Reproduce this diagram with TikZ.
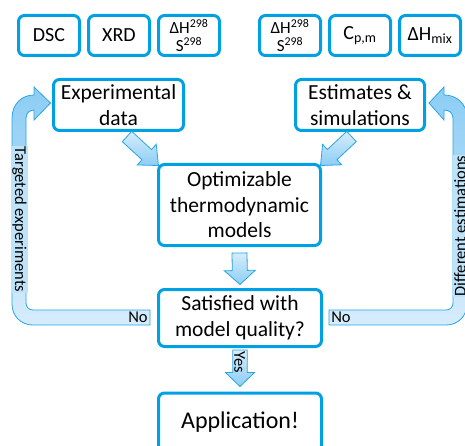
\documentclass[tikz,border=0pt]{standalone}
\usepackage{fontspec}
\setmainfont{Carlito}
\usetikzlibrary{calc}
\definecolor{bblue}{RGB}{0,160,227}
\definecolor{aline}{RGB}{40,165,230}
\definecolor{atop}{RGB}{214,237,251}
\definecolor{abot}{RGB}{140,205,244}
\definecolor{lband}{RGB}{214,236,251}
\definecolor{labfill}{RGB}{190,227,248}
\newcommand\blockarrow[5]{%
  \coordinate (bac) at ($(#2)!#5!(#1)$);
  \draw[blockarr] ($(#1)!#3!90:(#2)$) -- ($(bac)!#3!90:(#2)$) -- ($(bac)!#4!90:(#2)$) -- (#2)
    -- ($(bac)!#4!-90:(#2)$) -- ($(bac)!#3!-90:(#2)$) -- ($(#1)!#3!-90:(#2)$) -- cycle;}
\tikzset{
  box/.style={draw=bblue, line width=3pt, rounded corners=6pt, fill=white, align=center, inner sep=0pt},
  topbox/.style={box, minimum width=61pt, minimum height=40pt, font=\fontsize{20}{24}\selectfont},
  mainbox/.style={box, font=\fontsize{21.5}{25.5}\selectfont},
  blockarr/.style={draw=aline, line width=0.8pt, top color=atop, bottom color=abot},
  loopband/.style={draw=aline, line width=0.8pt, top color=abot, bottom color=lband},
  lab/.style={inner sep=1pt, font=\fontsize{16.5}{20}\selectfont},
}
\begin{document}
\begin{tikzpicture}[x=1pt, y=-1pt]
\useasboundingbox (0,0) rectangle (465,446);
% top data boxes
\node[topbox] (dsc) at (49,35.5) {DSC};
\node[topbox] (xrd) at (119,35.5) {XRD};
\node[topbox, font=\fontsize{17}{18}\selectfont] (hs1) at (189,35.5) {ΔH\textsuperscript{298}\\S\textsuperscript{298}};
\node[topbox, font=\fontsize{17}{18}\selectfont] (hs2) at (290,35.5) {ΔH\textsuperscript{298}\\S\textsuperscript{298}};
\node[topbox] (cp) at (360,35.5) {C\textsubscript{p,m}};
\node[topbox] (hmix) at (430,35.5) {ΔH\textsubscript{mix}};
% main boxes
\node[mainbox, minimum width=130pt, minimum height=51pt] (exp) at (118.5,105) {Experimental\\data};
\node[mainbox, minimum width=129pt, minimum height=51pt] (est) at (360,105) {Estimates \&\\simulations};
\node[mainbox, minimum width=162pt, minimum height=81pt] (opt) at (239.5,205) {Optimizable\\thermodynamic\\models};
\node[mainbox, minimum width=163pt, minimum height=57pt] (sat) at (240,318) {Satisfied with\\model quality?};
\node[mainbox, minimum width=163pt, minimum height=58pt, font=\fontsize{24}{28}\selectfont] (app) at (240,422) {Application!};
% connector end points
\coordinate (t1) at ($(exp.south)+(8.5,4.5)$);
\coordinate (h1) at ($(opt.north west)+(1.5,2.5)$);
\coordinate (t2) at ($(est.south)+(-8.5,4.5)$);
\coordinate (h2) at ($(opt.north east)+(-1.5,2.5)$);
\coordinate (t3) at ($(opt.south)+(0,6)$);
\coordinate (h3) at ($(sat.north)+(0,-3.5)$);
\coordinate (t4) at ($(sat.south)+(0,2)$);
\coordinate (h4) at ($(app.north)+(0,-5)$);
\coordinate (ltip) at ($(exp.west)+(-1.5,-2)$);
\coordinate (rtip) at ($(est.east)+(3,-2)$);
% block arrows
\blockarrow{t1}{h1}{7pt}{14pt}{16pt}
\blockarrow{t2}{h2}{7pt}{14pt}{16pt}
\blockarrow{t3}{h3}{7.5pt}{15.5pt}{14pt}
\blockarrow{t4}{h4}{7.2pt}{14.5pt}{14pt}
% feedback loops
\draw[loopband] (150,310) -- (33,310) .. controls (29,310) and (26,307) .. (26,303)
  -- (26,118) .. controls (26,113) and (30,110) .. (34,110) -- (34,120) -- (ltip)
  -- (34,87) -- (34,95) .. controls (22,95) and (12,104) .. (12,118)
  -- (12,304) .. controls (12,316) and (21,325) .. (33,325) -- (150,325) -- cycle;
\draw[loopband] (329,310) -- (446,310) .. controls (450,310) and (453,307) .. (453,303)
  -- (453,118) .. controls (453,113) and (449,110) .. (444,110) -- (444,120) -- (rtip)
  -- (444,87) -- (444,95) .. controls (457,95) and (467,104) .. (467,118)
  -- (467,304) .. controls (467,316) and (458,325) .. (446,325) -- (329,325) -- cycle;
% labels
\node[lab, fill=labfill, rotate=-90] (ltxt) at (19.5,219.5) {Targeted experiments};
\node[lab, fill=labfill, rotate=90] (rtxt) at (460,226) {Different estimations};
\node[lab] (lno) at (138,317.5) {No};
\node[lab] (rno) at (341,317.5) {No};
\node[lab, rotate=-90] (yes) at (239.5,362) {Yes};
\end{tikzpicture}
\end{document}
